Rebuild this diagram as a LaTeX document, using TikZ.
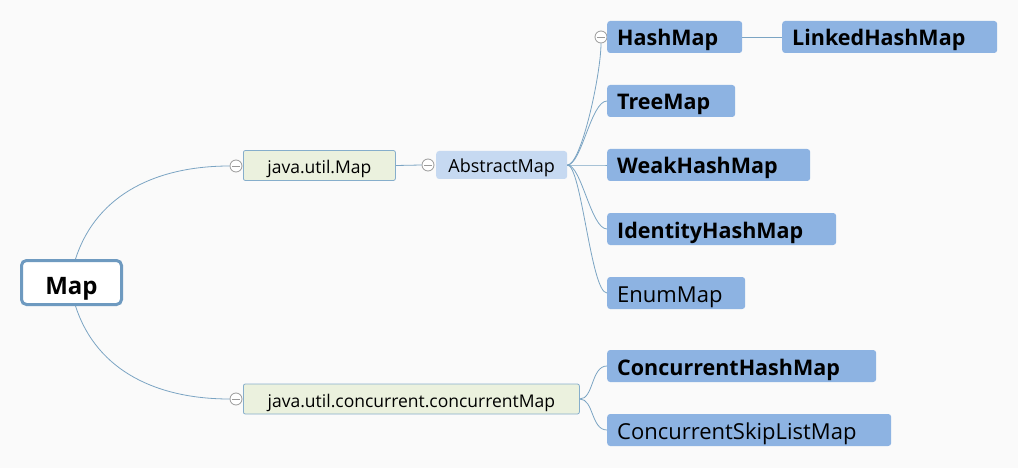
\documentclass[tikz,border=0pt]{standalone}
\usepackage{fontspec}
\setmainfont{Open Sans}
\usepackage{xcolor}
\usepackage{tikz}
\definecolor{bgcol}{HTML}{FAFAFA}
\definecolor{leafblue}{HTML}{8DB3E2}
\definecolor{abstractblue}{HTML}{C6D9F1}
\definecolor{branchgreen}{HTML}{EBF1DE}
\definecolor{branchline}{HTML}{86AECB}
\definecolor{rootline}{HTML}{6E9AC0}
\definecolor{linkcol}{HTML}{7BA4C3}
\definecolor{foldgray}{HTML}{9A9A9A}
\tikzset{
	root node/.style={draw=rootline,line width=3pt,fill=white,rounded corners=5pt,
		minimum width=100pt,minimum height=44pt,inner ysep=0pt,text height=24pt,text depth=0pt,
		font=\fontsize{24}{28}\selectfont\bfseries},
	branch node/.style={draw=branchline,line width=0.8pt,fill=branchgreen,rounded corners=2pt,
		minimum height=30pt,inner ysep=0pt,text height=16pt,text depth=0pt,anchor=west,
		font=\fontsize{17.5}{20}\selectfont},
	abstract node/.style={fill=abstractblue,rounded corners=3pt,
		minimum height=28pt,inner ysep=0pt,text height=16pt,text depth=0pt,anchor=west,
		font=\fontsize{18}{20}\selectfont},
	leaf node/.style={fill=leafblue,rounded corners=3pt,inner xsep=10pt,inner ysep=0pt,
		minimum height=32pt,text height=18pt,text depth=0pt,text width=#1,align=left,anchor=west,
		font=\fontsize{22}{24}\selectfont},
	bold leaf/.style={leaf node=#1,font=\fontsize{21.5}{24}\selectfont\bfseries},
	fold node/.style={circle,draw=foldgray,line width=0.8pt,fill=white,minimum size=12pt,inner sep=0pt,
		path picture={\draw[foldgray,line width=0.8pt] ([xshift=-4pt]path picture bounding box.center) -- ([xshift=4pt]path picture bounding box.center);}},
	link/.style={draw=linkcol,line width=0.8pt},
	fan/.style={to path={.. controls +(14,0) and +(-16,0) .. (\tikztotarget) \tikztonodes}}
}

\begin{document}
\begin{tikzpicture}[x=1pt,y=-1pt]
	\fill[bgcol] (0,0) rectangle (1018,468);
	\useasboundingbox (0,0) rectangle (1018,468);
	% root and the two interfaces
	\node [root node] (map) at (71.5,282.5) {Map};
	\node [branch node,minimum width=152pt] (utilmap) at (243,165.5) {java.util.Map};
	\node [branch node,minimum width=336pt] (concmap) at (243,399) {java.util.concurrent.concurrentMap};
	\node [abstract node,minimum width=131pt] (abstract) at (436,165) {AbstractMap};
	% fold marks
	\node [fold node] (f1) at (236,166) {};
	\node [fold node] (f2) at (428,165) {};
	\node [fold node] (f3) at (601,37) {};
	\node [fold node] (f4) at (236,399) {};
	% implementations
	\node [bold leaf=115pt] (hash) at (607,37) {HashMap};
	\node [bold leaf=195pt] (linked) at (782,37) {LinkedHashMap};
	\node [bold leaf=108pt] (tree) at (607,101) {TreeMap};
	\node [bold leaf=183pt] (weak) at (607,165) {WeakHashMap};
	\node [bold leaf=209pt] (ident) at (607,229) {IdentityHashMap};
	\node [leaf node=118pt] (enum) at (607,293) {EnumMap};
	\node [bold leaf=249pt] (conchash) at (607,366) {ConcurrentHashMap};
	\node [leaf node=264pt] (skip) at (607,430) {ConcurrentSkipListMap};
	% connectors
	\draw [link] ([xshift=4pt]map.north) to[out=72,in=180] (f1.west);
	\draw [link] ([xshift=4pt]map.south) to[out=-72,in=180] (f4.west);
	\draw [link] (utilmap.east) -- (f2.west);
	\draw [link] (abstract.east) .. controls +(14,0) and +(0,30) .. (f3.south);
	\foreach \leaf in {tree,weak,ident,enum}
		\draw [link] (abstract.east) to[fan] (\leaf.west);
	\draw [link] (hash.east) -- (linked.west);
	\draw [link] (concmap.east) to[fan] (conchash.west);
	\draw [link] (concmap.east) to[fan] (skip.west);
\end{tikzpicture}
\end{document}
